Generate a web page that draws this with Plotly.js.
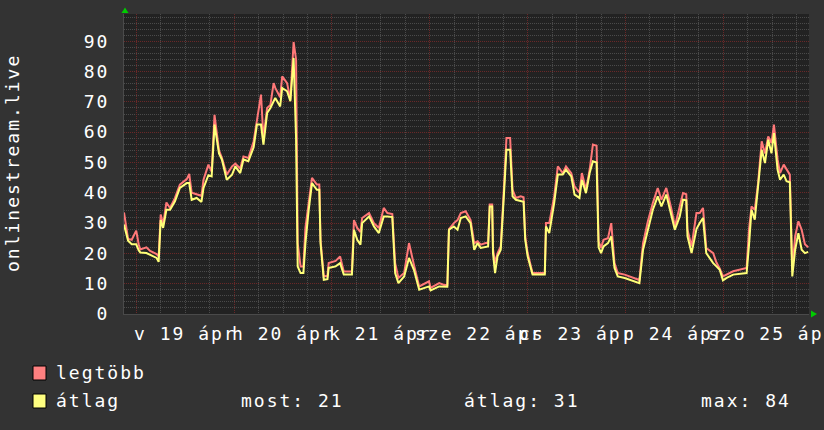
<!DOCTYPE html>
<html><head><meta charset="utf-8">
<script src="https://cdn.plot.ly/plotly-3.0.1.min.js"></script>
<style>
html,body{margin:0;padding:0;background:#333333;}
#chart{width:824px;height:430px;}
svg text{letter-spacing:2px;}
</style></head><body><div id="chart"></div>
<script>
// hours relative to 2020-04-19 00:00
const hours = [-3.0,-2.0,-1.1,0.0,0.6,1.0,2.5,3.4,5.0,5.5,6.0,6.6,7.4,8.3,9.5,10.7,12.4,13.0,13.6,14.8,16.0,16.5,17.7,18.5,19.2,20.3,21.0,22.2,23.5,24.3,
25.5,26.3,27.5,28.8,29.6,30.6,31.2,32.1,32.9,33.7,34.1,35.3,35.8,37.0,37.8,38.6,39.2,39.6,40.3,41.0,41.5,42.3,43.1,44.3,44.9,45.2,46.0,46.9,47.2,48.9,50.0,50.9,52.9,
53.4,54.2,55.0,55.4,57.1,58.3,59.5,60.7,61.6,62.8,63.5,64.3,65.7,66.9,68.1,69.4,71.8,72.2,74.3,75.5,76.3,76.7,77.9,78.8,79.6,80.8,
82.0,82.9,83.7,84.5,85.7,86.3,86.7,87.3,87.5,88.0,88.6,89.4,90.2,90.8,91.7,92.3,93.1,94.3,95.0,95.4,96.0,97.2,100.2,100.5,101.3,102.5,103.4,104.6,105.4,106.7,107.5,108.7,
109.3,110.3,111.2,112.0,112.9,113.4,114.0,114.6,115.7,116.5,117.3,118.1,119.8,123.4,124.3,125.5,126.7,127.9,128.8,130.0,131.2,132.1,133.3,134.1,134.9,135.2,136.2,137.4,
138.2,139.0,139.8,141.5,142.3,143.1,143.9,144.8,146.4,149.7,150.3,150.9,151.7,152.5,153.4,154.2,155.0,155.8,156.4,157.3,157.9,158.8,159.5,160.3,160.9,161.6,162.4,163.2,164.0,164.8];
const avgVals = [29.5,24.2,23.0,23.0,21.0,20.3,20.1,19.6,18.5,17.2,31.0,28.4,34.4,34.4,37.2,41.6,43.2,43.2,37.7,38.3,37.0,41.6,45.8,45.4,62.5,53.0,51.0,44.3,46.0,48.7,
46.5,51.0,50.4,55.0,62.5,62.5,55.9,66.3,68.0,70.2,71.3,68.5,74.6,73.5,70.2,84.5,58.0,15.7,13.5,13.5,23.4,34.4,43.2,41.0,41.0,23.4,11.3,11.5,15.2,15.7,16.8,13.0,13.0,
27.8,24.5,22.9,30.0,32.2,28.9,26.7,32.2,32.2,32.0,13.5,10.2,12.4,18.5,14.6,8.0,9.1,7.8,9.1,9.0,9.0,27.8,28.9,27.8,31.7,32.2,
30.0,21.2,23.4,21.8,22.3,22.3,35.5,35.5,20.1,13.5,19.0,21.2,39.9,54.2,54.2,38.8,37.7,37.2,37.0,24.5,19.0,13.0,13.0,28.9,26.7,36.6,46.0,46.0,47.6,45.4,39.4,38.3,
44.3,39.9,46.5,50.4,50.0,22.0,20.1,22.3,23.4,25.6,15.2,12.4,11.9,10.2,21.2,27.8,34.4,38.8,35.5,39.4,33.0,27.8,32.2,37.7,37.5,25.6,20.1,28.0,
30.0,31.7,20.1,16.8,15.7,14.6,11.1,11.9,13.0,13.5,23.0,34.4,31.1,41.0,54.2,49.8,57.5,53.0,59.7,47.6,44.3,46.0,43.8,43.5,12.4,21.2,26.7,21.2,20.1,20.5];
const maxVals = [33.5,24.8,24.5,27.5,23.0,21.3,22.0,20.8,19.8,19.0,32.8,29.5,36.8,35.0,38.3,42.7,44.5,46.2,40.0,39.5,39.0,44.3,49.3,47.0,65.7,54.0,51.5,46.0,48.7,49.6,
48.0,52.0,51.5,57.0,64.0,72.4,58.0,68.0,69.0,76.2,74.6,71.5,78.4,76.2,70.7,89.7,84.0,23.4,15.7,15.7,28.4,36.6,44.9,42.7,42.7,24.5,12.4,12.6,16.8,17.5,19.0,14.0,14.0,
31.0,28.4,27.0,31.7,33.3,30.0,28.4,35.0,33.3,33.0,16.8,11.9,13.5,23.4,16.3,9.1,10.8,8.6,10.2,9.6,9.6,28.0,30.0,31.0,33.3,33.9,
31.0,23.4,24.0,22.9,23.4,23.4,36.1,36.1,21.5,16.8,20.0,22.3,42.1,58.1,58.1,41.0,38.3,38.8,38.5,25.5,20.1,13.5,13.5,30.0,30.0,38.8,48.7,46.5,48.7,46.5,42.1,40.0,
46.5,41.0,47.6,55.9,55.5,24.0,21.8,24.5,25.0,30.0,16.8,13.5,13.0,11.2,23.4,30.7,36.6,41.6,37.7,41.6,35.0,28.9,35.5,39.9,39.5,27.8,22.3,33.3,
33.3,35.0,21.8,20.1,17.0,15.0,12.4,13.0,14.1,15.2,28.0,35.5,34.4,43.0,57.0,53.0,58.6,56.4,62.5,51.0,46.5,49.3,47.6,46.0,14.6,25.6,30.6,27.8,23.0,22.0];
const dayNames = ['v','h','k','sze','cs','p','szo'];
const dayNums = [19,20,21,22,23,24,25];
const monthName = 'ápr';
const yTickVals = [0,10,20,30,40,50,60,70,80,90];
const legendLabels = ['legtöbb','átlag'];
const statLabels = ['most: 21','átlag: 31','max: 84'];
const yTitle = 'onlinestream.live';

const BASE = Date.UTC(2020,3,19);
function toDate(h){
  const d = new Date(Math.round(BASE + h*3600000));
  const p = n => String(n).padStart(2,'0');
  return d.getUTCFullYear()+'-'+p(d.getUTCMonth()+1)+'-'+p(d.getUTCDate())+' '+p(d.getUTCHours())+':'+p(d.getUTCMinutes())+':'+p(d.getUTCSeconds());
}
const xs = hours.map(toDate);

const L=124, T=14, W=685, H=300;
const px = x => (x-L)/W;
const py = y => (T+H-y)/H;
const FONT = 'DejaVu Sans Mono';

const traces = [
  {x: xs, y: maxVals, type:'scatter', mode:'lines', line:{color:'#ff7878', width:2, shape:'linear'}, hoverinfo:'skip', showlegend:false},
  {x: xs, y: avgVals, type:'scatter', mode:'lines', line:{color:'#ffff78', width:2, shape:'linear'}, hoverinfo:'skip', showlegend:false}
];

const annotations = [];
dayNums.forEach((d,i)=>{
  annotations.push({xref:'x', yref:'paper', x: toDate(i*24+12), y: py(333), xanchor:'center', yanchor:'middle',
    text: dayNames[i]+' '+d+' '+monthName, showarrow:false, font:{family:FONT, size:18, color:'#ffffff'}});
});
annotations.push({xref:'paper', yref:'paper', x: px(12), y: py(163), xanchor:'center', yanchor:'middle', textangle:-90,
  text: yTitle, showarrow:false, font:{family:FONT, size:18, color:'#ffffff'}});
legendLabels.forEach((t,i)=>{
  annotations.push({xref:'paper', yref:'paper', x: px(54), y: py(372.8 + 28*i), xanchor:'left', yanchor:'middle',
    text: t, showarrow:false, font:{family:FONT, size:18, color:'#ffffff'}});
});
const statX = [239, 461.5, 699];
statLabels.forEach((t,i)=>{
  annotations.push({xref:'paper', yref:'paper', x: px(statX[i]), y: py(400.8), xanchor:'left', yanchor:'middle',
    text: t, showarrow:false, font:{family:FONT, size:18, color:'#ffffff'}});
});

const swatchColors = ['#ff8080','#ffff80'];
const shapes = [];
swatchColors.forEach((c,i)=>{
  shapes.push({type:'rect', xref:'paper', yref:'paper', x0: px(33), x1: px(46), y0: py(380+28*i), y1: py(366+28*i),
    fillcolor:c, line:{color:'#000000', width:1}});
});
shapes.push({type:'path', xref:'paper', yref:'paper', fillcolor:'#00cc00', line:{width:0},
  path:`M ${px(121.5)},${py(13)} L ${px(128.5)},${py(13)} L ${px(125)},${py(7.5)} Z`});
shapes.push({type:'path', xref:'paper', yref:'paper', fillcolor:'#00cc00', line:{width:0},
  path:`M ${px(811)},${py(310.5)} L ${px(811)},${py(317.5)} L ${px(817)},${py(314)} Z`});

const layout = {
  width:824, height:430,
  margin:{l:L, r:824-L-W, t:T, b:430-T-H, pad:0},
  paper_bgcolor:'#333333', plot_bgcolor:'#222222',
  font:{family:FONT, size:18, color:'#ffffff'},
  xaxis:{type:'date', range:[toDate(-3), toDate(165)], tick0: toDate(0), dtick: 86400000,
    showgrid:true, gridcolor:'#6a2828', griddash:'1px,1px', gridwidth:1,
    showticklabels:false, ticks:'', zeroline:false, showline:true, linecolor:'#4a4a4a', linewidth:1,
    minor:{tick0: toDate(0), dtick: 21600000, showgrid:true, gridcolor:'#4a4a4a', griddash:'1px,1px', gridwidth:1, ticks:''},
    fixedrange:true},
  yaxis:{range:[0,99], tickvals: yTickVals, ticktext: yTickVals.map(String),
    showgrid:true, gridcolor:'#6a2828', griddash:'1px,1px', gridwidth:1,
    ticks:'', ticklabelstandoff:10, zeroline:false, showline:true, linecolor:'#4a4a4a', linewidth:1,
    minor:{dtick:2, showgrid:true, gridcolor:'#4a4a4a', griddash:'1px,1px', gridwidth:1, ticks:''},
    tickfont:{family:FONT, size:18, color:'#ffffff'}, fixedrange:true},
  annotations, shapes, showlegend:false
};
Plotly.newPlot('chart', traces, layout, {staticPlot:true, displayModeBar:false});
</script></body></html>
